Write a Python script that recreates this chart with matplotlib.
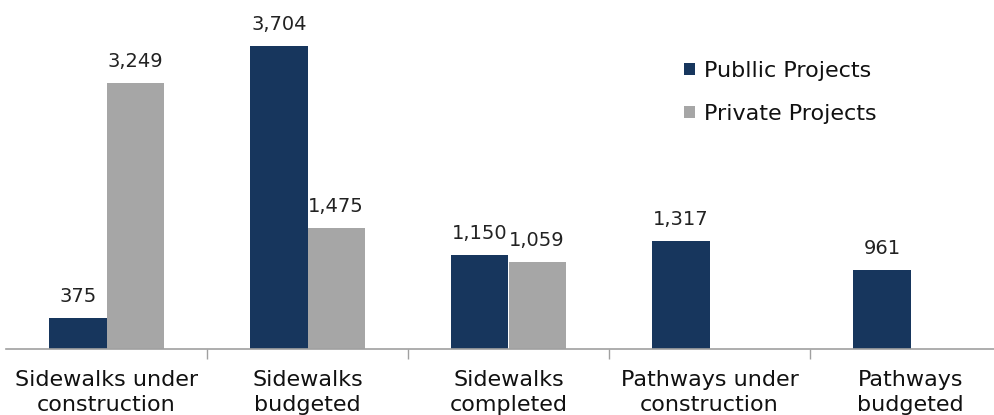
import numpy as np
import matplotlib
matplotlib.use("Agg")
import matplotlib.pyplot as plt

categories = ["Sidewalks under\nconstruction", "Sidewalks\nbudgeted", "Sidewalks\ncompleted",
              "Pathways under\nconstruction", "Pathways\nbudgeted"]
public_vals = [375, 3704, 1150, 1317, 961]
private_vals = [3249, 1475, 1059, np.nan, np.nan]
series_names = ["Publlic Projects", "Private Projects"]

pub_color = "#17365D"
priv_color = "#A6A6A6"
plt.rcParams['font.family'] = ['DejaVu Sans']

fig = plt.figure(figsize=(9.94, 4.15), dpi=100)
ax = fig.add_axes([6/994, 66/415, 1005/994, 349/415])

x = np.arange(len(categories))
w = 0.285
off = 0.1425
ax.bar(x - off, public_vals, w, color=pub_color, label=series_names[0])
ax.bar(x + off, private_vals, w, color=priv_color, label=series_names[1])

for xs, vals in ((x - off, public_vals), (x + off, private_vals)):
    for xi, v in zip(xs, vals):
        if not np.isnan(v):
            ax.text(xi, v + 150, f"{v:,.0f}", ha="center", va="bottom", fontsize=14,
                    color="#222222")

ax.set_xlim(-0.5, 4.5)
ax.set_ylim(0, 4266)
for s in ["top", "right", "left"]:
    ax.spines[s].set_visible(False)
ax.spines["bottom"].set_color("#A0A0A0")
ax.spines["bottom"].set_linewidth(1.2)
ax.set_yticks([])
ax.set_xticks(x)
ax.set_xticklabels(categories, fontsize=16, color="#111111", linespacing=1.33)
ax.tick_params(axis="x", which="major", length=0, pad=15)
ax.set_xticks(np.arange(0.5, 4.5, 1), minor=True)
ax.tick_params(axis="x", which="minor", length=7, color="#A0A0A0", width=1)

ax.legend(loc="upper left", bbox_to_anchor=((684 - 6) / 1005, 1 - 61 / 349), frameon=False,
          fontsize=16, handlelength=0.5, handleheight=0.5, handletextpad=0.4,
          labelspacing=1.03, labelcolor="#111111", borderpad=0, borderaxespad=0)

fig.savefig("out.png", dpi=100)
